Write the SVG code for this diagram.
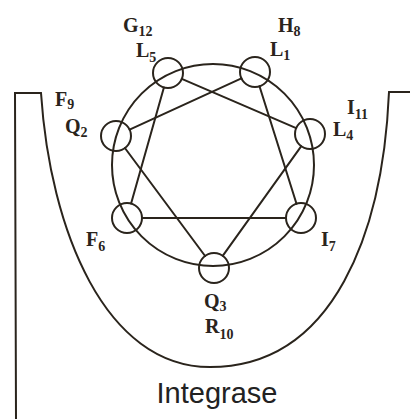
<svg xmlns="http://www.w3.org/2000/svg" width="410" height="419" viewBox="0 0 410 419">
<style>
.ln{stroke:#2a241c;stroke-width:2;fill:none;stroke-linecap:round}
.res{stroke:#2a241c;stroke-width:2;fill:none}
.lb{font-family:"Liberation Serif","Times New Roman",serif;font-weight:bold;font-size:20px;fill:#2a241c}
.sb{font-size:14px}
.title{font-family:"Liberation Sans",Arial,sans-serif;font-size:29px;fill:#222}
</style>
<rect width="410" height="419" fill="#fff"/>
<g id="integrase">
<path class="ln" d="M41,93 L15,93 L16,419" stroke-width="1.8"/>
<path class="ln" d="M389,92 L410,92" stroke-width="1.8"/>
<path class="ln" d="M41,93 C50,230 105,367 210,367 C335,367 383,230 389,92" stroke-width="1.6"/>
<text class="title" x="217" y="403" text-anchor="middle">Integrase</text>
</g>
<g id="wheel">
<circle class="res" cx="213" cy="165" r="101"/>
</g>
<g id="connectors">
<line class="ln" x1="241.4" y1="78.3" x2="129.6" y2="129.7"/>
<line class="ln" x1="124.9" y1="148" x2="205.1" y2="256"/>
<line class="ln" x1="222.7" y1="255.8" x2="301.3" y2="146.2"/>
<line class="ln" x1="296.2" y1="128.1" x2="181.8" y2="78.9"/>
<line class="ln" x1="163.9" y1="87.4" x2="131.1" y2="203.6"/>
<line class="ln" x1="142" y1="218" x2="286" y2="218"/>
<line class="ln" x1="296.5" y1="203.7" x2="259.5" y2="86.3"/>
</g>
<g id="res1"><circle class="res" cx="255" cy="72" r="15"/><text class="lb" x="270" y="56">L<tspan class="sb" dy="4">1</tspan></text><text class="lb" x="278" y="32">H<tspan class="sb" dy="4">8</tspan></text></g>
<g id="res2"><circle class="res" cx="116" cy="136" r="15"/><text class="lb" x="65" y="133">Q<tspan class="sb" dy="4">2</tspan></text><text class="lb" x="55" y="106">F<tspan class="sb" dy="3">9</tspan></text></g>
<g id="res3"><circle class="res" cx="214" cy="268" r="15"/><text class="lb" x="204" y="308">Q<tspan class="sb" dy="3">3</tspan></text><text class="lb" x="205" y="333">R<tspan class="sb" dy="6">10</tspan></text></g>
<g id="res4"><circle class="res" cx="310" cy="134" r="15"/><text class="lb" x="333" y="136">L<tspan class="sb" dy="4">4</tspan></text><text class="lb" x="347" y="114">I<tspan class="sb" dy="5">11</tspan></text></g>
<g id="res5"><circle class="res" cx="168" cy="73" r="15"/><text class="lb" x="136" y="57">L<tspan class="sb" dy="5">5</tspan></text><text class="lb" x="123" y="32">G<tspan class="sb" dy="4">12</tspan></text></g>
<g id="res6"><circle class="res" cx="127" cy="218" r="15"/><text class="lb" x="86" y="246">F<tspan class="sb" dy="5">6</tspan></text></g>
<g id="res7"><circle class="res" cx="301" cy="218" r="15"/><text class="lb" x="321" y="246">I<tspan class="sb" dy="5">7</tspan></text></g>
</svg>
